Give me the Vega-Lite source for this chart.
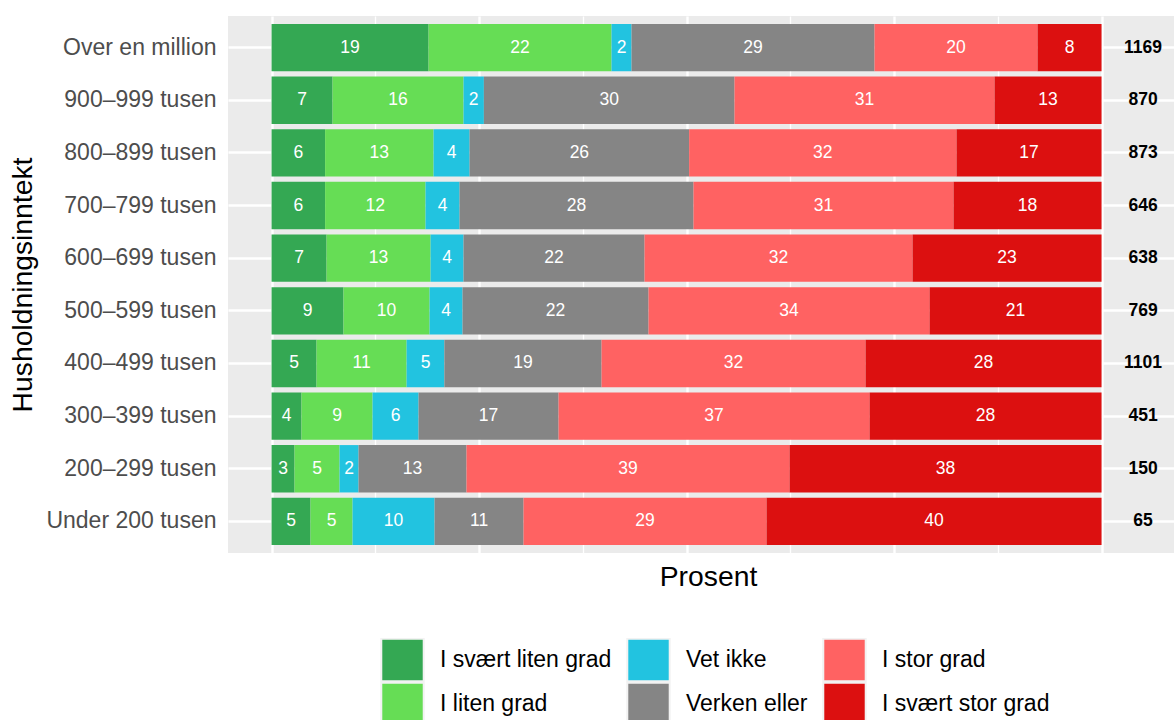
{
  "$schema": "https://vega.github.io/schema/vega-lite/v6.json",
  "autosize": {"type": "none"},
  "padding": {"left": 228, "top": 16, "right": 0, "bottom": 167},
  "width": 946,
  "height": 537,
  "background": "white",
  "config": {
    "view": {"fill": "#EBEBEB", "stroke": null},
    "font": "Liberation Sans",
    "legend": {
      "orient": "none",
      "legendX": 152,
      "legendY": 622,
      "columns": 3,
      "padding": 0,
      "symbolType": "square",
      "symbolSize": 1800,
      "symbolStrokeColor": "#F2F2F2",
      "symbolStrokeWidth": 2,
      "symbolOpacity": 1,
      "labelFont": "Liberation Sans",
      "labelFontSize": 23,
      "labelColor": "#000000",
      "labelOffset": 15,
      "labelLimit": 400,
      "columnPadding": 14,
      "rowPadding": 0,
      "clipHeight": 44,
      "title": null
    },
    "axisX": {
      "grid": true,
      "gridColor": "#FFFFFF",
      "labels": false,
      "ticks": false,
      "domain": false,
      "titleFont": "Liberation Sans",
      "titleFontSize": 28.3,
      "titleFontWeight": "normal",
      "titleColor": "#000000",
      "titlePadding": 10,
      "titleX": 480
    }
  },
  "datasets": {
    "bars": [
      {"inntekt": "Over en million", "svar": "I svært liten grad", "pct": 18.92},
      {"inntekt": "Over en million", "svar": "I liten grad", "pct": 22.04},
      {"inntekt": "Over en million", "svar": "Vet ikke", "pct": 2.41},
      {"inntekt": "Over en million", "svar": "Verken eller", "pct": 29.28},
      {"inntekt": "Over en million", "svar": "I stor grad", "pct": 19.64},
      {"inntekt": "Over en million", "svar": "I svært stor grad", "pct": 7.71},
      {"inntekt": "900–999 tusen", "svar": "I svært liten grad", "pct": 7.35},
      {"inntekt": "900–999 tusen", "svar": "I liten grad", "pct": 15.78},
      {"inntekt": "900–999 tusen", "svar": "Vet ikke", "pct": 2.45},
      {"inntekt": "900–999 tusen", "svar": "Verken eller", "pct": 30.2},
      {"inntekt": "900–999 tusen", "svar": "I stor grad", "pct": 31.33},
      {"inntekt": "900–999 tusen", "svar": "I svært stor grad", "pct": 12.89},
      {"inntekt": "800–899 tusen", "svar": "I svært liten grad", "pct": 6.45},
      {"inntekt": "800–899 tusen", "svar": "I liten grad", "pct": 13.07},
      {"inntekt": "800–899 tusen", "svar": "Vet ikke", "pct": 4.34},
      {"inntekt": "800–899 tusen", "svar": "Verken eller", "pct": 26.45},
      {"inntekt": "800–899 tusen", "svar": "I stor grad", "pct": 32.22},
      {"inntekt": "800–899 tusen", "svar": "I svært stor grad", "pct": 17.47},
      {"inntekt": "700–799 tusen", "svar": "I svært liten grad", "pct": 6.45},
      {"inntekt": "700–799 tusen", "svar": "I liten grad", "pct": 12.1},
      {"inntekt": "700–799 tusen", "svar": "Vet ikke", "pct": 4.1},
      {"inntekt": "700–799 tusen", "svar": "Verken eller", "pct": 28.19},
      {"inntekt": "700–799 tusen", "svar": "I stor grad", "pct": 31.33},
      {"inntekt": "700–799 tusen", "svar": "I svært stor grad", "pct": 17.83},
      {"inntekt": "600–699 tusen", "svar": "I svært liten grad", "pct": 6.63},
      {"inntekt": "600–699 tusen", "svar": "I liten grad", "pct": 12.53},
      {"inntekt": "600–699 tusen", "svar": "Vet ikke", "pct": 3.97},
      {"inntekt": "600–699 tusen", "svar": "Verken eller", "pct": 21.81},
      {"inntekt": "600–699 tusen", "svar": "I stor grad", "pct": 32.29},
      {"inntekt": "600–699 tusen", "svar": "I svært stor grad", "pct": 22.77},
      {"inntekt": "500–599 tusen", "svar": "I svært liten grad", "pct": 8.67},
      {"inntekt": "500–599 tusen", "svar": "I liten grad", "pct": 10.37},
      {"inntekt": "500–599 tusen", "svar": "Vet ikke", "pct": 3.97},
      {"inntekt": "500–599 tusen", "svar": "Verken eller", "pct": 22.41},
      {"inntekt": "500–599 tusen", "svar": "I stor grad", "pct": 33.86},
      {"inntekt": "500–599 tusen", "svar": "I svært stor grad", "pct": 20.72},
      {"inntekt": "400–499 tusen", "svar": "I svært liten grad", "pct": 5.42},
      {"inntekt": "400–499 tusen", "svar": "I liten grad", "pct": 10.85},
      {"inntekt": "400–499 tusen", "svar": "Vet ikke", "pct": 4.55},
      {"inntekt": "400–499 tusen", "svar": "Verken eller", "pct": 18.94},
      {"inntekt": "400–499 tusen", "svar": "I stor grad", "pct": 31.81},
      {"inntekt": "400–499 tusen", "svar": "I svært stor grad", "pct": 28.43},
      {"inntekt": "300–399 tusen", "svar": "I svært liten grad", "pct": 3.61},
      {"inntekt": "300–399 tusen", "svar": "I liten grad", "pct": 8.56},
      {"inntekt": "300–399 tusen", "svar": "Vet ikke", "pct": 5.54},
      {"inntekt": "300–399 tusen", "svar": "Verken eller", "pct": 16.87},
      {"inntekt": "300–399 tusen", "svar": "I stor grad", "pct": 37.47},
      {"inntekt": "300–399 tusen", "svar": "I svært stor grad", "pct": 27.95},
      {"inntekt": "200–299 tusen", "svar": "I svært liten grad", "pct": 2.77},
      {"inntekt": "200–299 tusen", "svar": "I liten grad", "pct": 5.42},
      {"inntekt": "200–299 tusen", "svar": "Vet ikke", "pct": 2.29},
      {"inntekt": "200–299 tusen", "svar": "Verken eller", "pct": 13.01},
      {"inntekt": "200–299 tusen", "svar": "I stor grad", "pct": 38.92},
      {"inntekt": "200–299 tusen", "svar": "I svært stor grad", "pct": 37.59},
      {"inntekt": "Under 200 tusen", "svar": "I svært liten grad", "pct": 4.70},
      {"inntekt": "Under 200 tusen", "svar": "I liten grad", "pct": 5.06},
      {"inntekt": "Under 200 tusen", "svar": "Vet ikke", "pct": 9.88},
      {"inntekt": "Under 200 tusen", "svar": "Verken eller", "pct": 10.72},
      {"inntekt": "Under 200 tusen", "svar": "I stor grad", "pct": 29.28},
      {"inntekt": "Under 200 tusen", "svar": "I svært stor grad", "pct": 40.36}
    ],
    "counts": [
      {"inntekt": "Over en million", "n": 1169},
      {"inntekt": "900–999 tusen", "n": 870},
      {"inntekt": "800–899 tusen", "n": 873},
      {"inntekt": "700–799 tusen", "n": 646},
      {"inntekt": "600–699 tusen", "n": 638},
      {"inntekt": "500–599 tusen", "n": 769},
      {"inntekt": "400–499 tusen", "n": 1101},
      {"inntekt": "300–399 tusen", "n": 451},
      {"inntekt": "200–299 tusen", "n": 150},
      {"inntekt": "Under 200 tusen", "n": 65}
    ]
  },
  "encoding": {
    "y": {
      "field": "inntekt",
      "type": "nominal",
      "sort": ["Over en million", "900–999 tusen", "800–899 tusen", "700–799 tusen", "600–699 tusen", "500–599 tusen", "400–499 tusen", "300–399 tusen", "200–299 tusen", "Under 200 tusen"],
      "scale": {"paddingInner": 0.1, "paddingOuter": 0.15},
      "axis": {
        "bandPosition": 0.5,
        "grid": true,
        "gridColor": "#FFFFFF",
        "gridWidth": 2.4,
        "ticks": false,
        "domain": false,
        "labelFont": "Liberation Sans",
        "labelFontSize": 23,
        "labelColor": "#4D4D4D",
        "labelPadding": 12,
        "title": "Husholdningsinntekt",
        "titleFont": "Liberation Sans",
        "titleFontSize": 28.3,
        "titleFontWeight": "normal",
        "titleColor": "#000000",
        "titlePadding": 8
      }
    }
  },
  "layer": [
    {
      "data": {"name": "bars"},
      "transform": [
        {"calculate": "indexof(['I svært liten grad','I liten grad','Vet ikke','Verken eller','I stor grad','I svært stor grad'], datum.svar)", "as": "ord"},
        {"stack": "pct", "groupby": ["inntekt"], "sort": [{"field": "ord", "order": "ascending"}], "as": ["x0", "x1"]}
      ],
      "mark": {"type": "bar"},
      "encoding": {
        "x": {
          "field": "x0",
          "type": "quantitative",
          "scale": {"domain": [-5.25, 108.73], "nice": false, "zero": false},
          "axis": {
            "values": [0, 12.5, 25, 37.5, 50, 62.5, 75, 87.5, 100],
            "gridWidth": {"condition": {"test": "datum.value % 25 === 0", "value": 2.4}, "value": 1.3},
            "title": "Prosent"
          }
        },
        "x2": {"field": "x1"},
        "color": {
          "field": "svar",
          "type": "nominal",
          "scale": {
            "domain": ["I svært liten grad", "I liten grad", "Vet ikke", "Verken eller", "I stor grad", "I svært stor grad"],
            "range": ["#34A853", "#66DD55", "#22C3E0", "#858585", "#FF6262", "#DC1010"]
          },
          "legend": {"title": null}
        }
      }
    },
    {
      "data": {"name": "bars"},
      "transform": [
        {"calculate": "indexof(['I svært liten grad','I liten grad','Vet ikke','Verken eller','I stor grad','I svært stor grad'], datum.svar)", "as": "ord"},
        {"stack": "pct", "groupby": ["inntekt"], "sort": [{"field": "ord", "order": "ascending"}], "as": ["x0", "x1"]},
        {"calculate": "(datum.x0 + datum.x1) / 2", "as": "mid"}
      ],
      "mark": {"type": "text", "color": "#FFFFFF", "fontSize": 17.5, "font": "Liberation Sans", "align": "center", "baseline": "middle"},
      "encoding": {
        "x": {
          "field": "mid",
          "type": "quantitative",
          "axis": {
            "values": [0, 12.5, 25, 37.5, 50, 62.5, 75, 87.5, 100],
            "gridWidth": {"condition": {"test": "datum.value % 25 === 0", "value": 2.4}, "value": 1.3},
            "title": "Prosent"
          }
        },
        "text": {"field": "pct", "type": "quantitative", "format": ".0f"}
      }
    },
    {
      "data": {"name": "counts"},
      "mark": {"type": "text", "color": "#000000", "fontSize": 17.5, "fontWeight": "bold", "font": "Liberation Sans", "align": "center", "baseline": "middle"},
      "encoding": {
        "x": {"datum": 105, "type": "quantitative"},
        "text": {"field": "n", "type": "quantitative"}
      }
    }
  ]
}
